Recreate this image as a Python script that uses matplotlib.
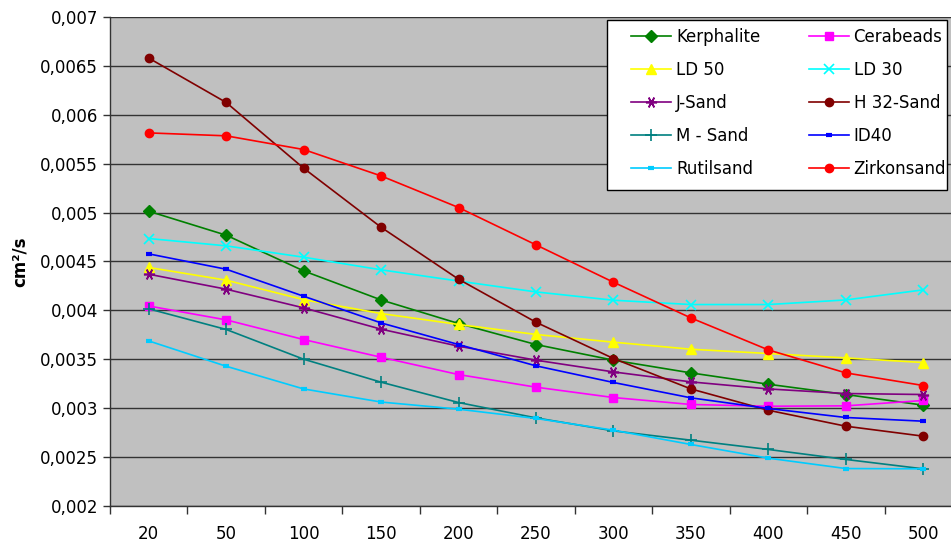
import matplotlib
matplotlib.use("Agg")
import matplotlib.pyplot as plt
from matplotlib.ticker import FuncFormatter, FixedLocator
from matplotlib.patches import Rectangle
import numpy as np

plt.rcParams['font.family'] = ['DejaVu Sans']

categories = ["20", "50", "100", "150", "200", "250", "300", "350", "400", "450", "500"]

kerphalite = [0.005014, 0.004769, 0.004404, 0.004107, 0.003866, 0.003651, 0.003491, 0.003361, 0.003245, 0.003140, 0.003031]
cerabeads  = [0.004045, 0.003903, 0.003702, 0.003521, 0.003344, 0.003215, 0.003109, 0.003038, 0.003020, 0.003024, 0.003079]
ld50       = [0.004439, 0.004309, 0.004110, 0.003968, 0.003856, 0.003754, 0.003675, 0.003603, 0.003559, 0.003514, 0.003467]
ld30       = [0.004735, 0.004660, 0.004544, 0.004415, 0.004300, 0.004189, 0.004104, 0.004060, 0.004060, 0.004107, 0.004210]
jsand      = [0.004370, 0.004217, 0.004026, 0.003808, 0.003634, 0.003491, 0.003371, 0.003269, 0.003197, 0.003150, 0.003140]
h32sand    = [0.006580, 0.006126, 0.005454, 0.004850, 0.004319, 0.003879, 0.003508, 0.003197, 0.002979, 0.002816, 0.002714]
msand      = [0.004016, 0.003805, 0.003501, 0.003266, 0.003058, 0.002901, 0.002768, 0.002673, 0.002578, 0.002476, 0.002380]
id40       = [0.004578, 0.004421, 0.004145, 0.003872, 0.003651, 0.003433, 0.003263, 0.003106, 0.002997, 0.002905, 0.002867]
rutilsand  = [0.003688, 0.003429, 0.003197, 0.003063, 0.002990, 0.002895, 0.002775, 0.002629, 0.002489, 0.002383, 0.002380]
zirkonsand = [0.005815, 0.005785, 0.005645, 0.005375, 0.005052, 0.004670, 0.004288, 0.003923, 0.003596, 0.003361, 0.003232]

series = [
    ("Kerphalite", kerphalite, "#008000", "D", 6),
    ("Cerabeads", cerabeads, "#FF00FF", "s", 6),
    ("LD 50", ld50, "#FFFF00", "^", 7),
    ("LD 30", ld30, "#00FFFF", "x", 7),
    ("J-Sand", jsand, "#800080", (6, 2, 90), 8),
    ("H 32-Sand", h32sand, "#800000", "o", 6),
    ("M - Sand", msand, "#008080", "+", 8),
    ("ID40", id40, "#0000FF", "_", 6),
    ("Rutilsand", rutilsand, "#00CCFF", "_", 6),
    ("Zirkonsand", zirkonsand, "#FF0000", "o", 6),
]

fig = plt.figure(figsize=(9.51, 5.45), dpi=100)
W, H = 951, 545
left, right, top, bottom = 110, 962, 17, 506
ax = fig.add_axes([left / W, 1 - bottom / H, (right - left) / W, (bottom - top) / H])
ax.set_facecolor("#C0C0C0")

x = np.arange(len(categories))
handles = []
for name, vals, color, marker, ms in series:
    kw = dict(color=color, marker=marker, markersize=ms, linewidth=1.2, label=name)
    if marker in ("x", "+") or isinstance(marker, tuple):
        kw["markeredgewidth"] = 1.2
    if marker == "_":
        kw["markeredgewidth"] = 3
        kw["markersize"] = 5
    h, = ax.plot(x, vals, **kw)
    handles.append(h)

ax.set_xlim(-0.5, len(categories) - 0.5)
ax.set_ylim(0.002, 0.007)
ax.set_yticks(np.arange(0.002, 0.00701, 0.0005))
ax.yaxis.set_major_formatter(FuncFormatter(lambda v, p: ("%g" % round(v, 5)).replace(".", ",")))
ax.yaxis.grid(True, color="#333333", linewidth=1.0)
ax.set_axisbelow(True)

ax.set_xticks(x)
ax.set_xticklabels(categories)
ax.xaxis.set_minor_locator(FixedLocator(np.arange(-0.5, len(categories), 1.0)))
ax.tick_params(axis="x", which="major", length=0, pad=14, labelsize=12)
ax.tick_params(axis="x", which="minor", length=6, width=1, color="#333333", direction="out")
ax.tick_params(axis="y", length=5, width=1, color="#333333", direction="out", labelsize=12, pad=3.5)

for s in ["top", "right"]:
    ax.spines[s].set_visible(False)
for s in ["left", "bottom"]:
    ax.spines[s].set_color("#333333")
    ax.spines[s].set_linewidth(1.0)

ax.set_ylabel("cm²/s", fontsize=12, fontweight="bold")
ax.yaxis.set_label_coords((29 - left) / (right - left), 0.5)

# legend frame (drawn in figure pixels)
fig.patches.append(Rectangle((607 / W, 1 - 190 / H), (947 - 607) / W, (190 - 20) / H,
                             transform=fig.transFigure, facecolor="white",
                             edgecolor="black", linewidth=1.0, zorder=5))

order = [0, 2, 4, 6, 8, 1, 3, 5, 7, 9]
leg = fig.legend([handles[i] for i in order], [series[i][0] for i in order],
                 ncol=2, loc="upper left",
                 bbox_to_anchor=(631 / W, 1 - 28 / H), bbox_transform=fig.transFigure,
                 frameon=False, fontsize=12, borderpad=0, labelspacing=0.9,
                 handlelength=2.4, columnspacing=2.9, handletextpad=0.3, borderaxespad=0)
leg.set_zorder(6)

fig.savefig("out.png", dpi=100)
